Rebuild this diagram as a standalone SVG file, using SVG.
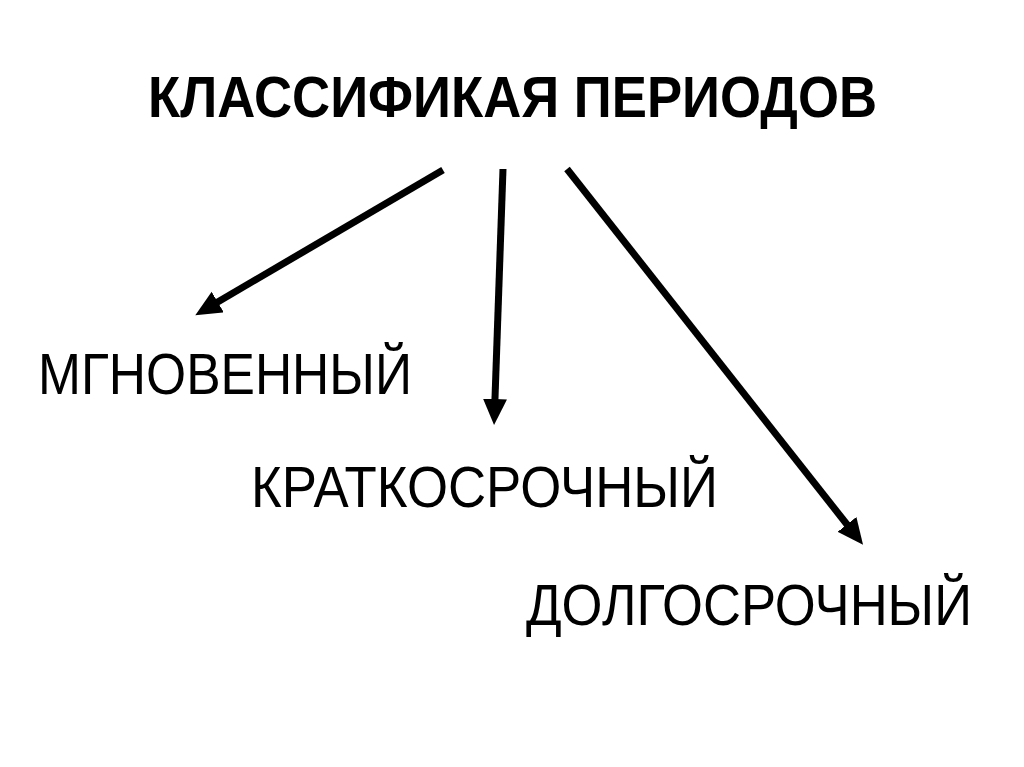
<svg xmlns="http://www.w3.org/2000/svg" width="1024" height="767" viewBox="0 0 1024 767">
<style>
.t{font-family:"Liberation Sans","Noto Sans",sans-serif;font-size:58px;fill:#000}
.b{font-weight:bold}
.c{stroke:#000;stroke-width:7;fill:none;marker-end:url(#ah)}
</style>
<defs>
<marker id="ah" markerUnits="userSpaceOnUse" markerWidth="30" markerHeight="30" refX="2" refY="12" orient="auto">
<path d="M0,0 L26,12 L0,24 z" fill="#000"/>
</marker>
</defs>
<rect width="1024" height="767" fill="#fff"/>
<g id="title"><text class="t b" x="148" y="117" textLength="729" lengthAdjust="spacingAndGlyphs">КЛАССИФИКАЯ ПЕРИОДОВ</text></g>
<g id="instant"><text class="t" x="38" y="394" textLength="374" lengthAdjust="spacingAndGlyphs">МГНОВЕННЫЙ</text></g>
<g id="short"><text class="t" x="251" y="507" textLength="467" lengthAdjust="spacingAndGlyphs">КРАТКОСРОЧНЫЙ</text></g>
<g id="long"><text class="t" x="526" y="625" textLength="446" lengthAdjust="spacingAndGlyphs">ДОЛГОСРОЧНЫЙ</text></g>
<g id="connectors">
<line class="c" x1="443" y1="170" x2="216" y2="303"/>
<line class="c" x1="503" y1="169" x2="494.9" y2="401"/>
<line class="c" x1="567" y1="169" x2="848.2" y2="526"/>
</g>
</svg>
